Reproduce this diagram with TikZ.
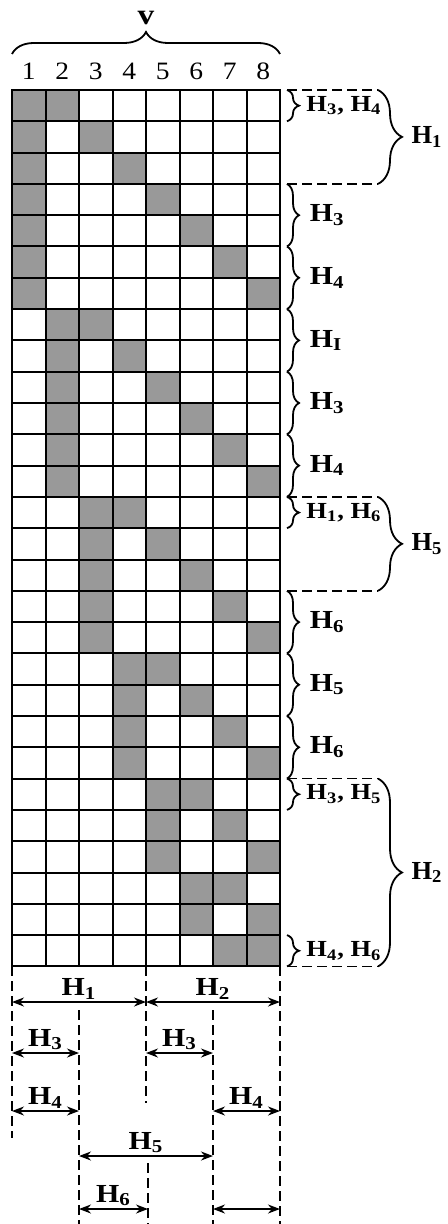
\documentclass[tikz,border=0pt]{standalone}
\usepackage{fontspec}
\setmainfont{Liberation Serif}
\usetikzlibrary{arrows.meta,decorations.pathreplacing}
\newcommand{\hh}[1]{H\textsubscript{#1}}

\begin{document}
\begin{tikzpicture}[
    x=0.5pt, y=-0.5pt,
    >={Stealth[length=6pt,width=4.5pt]},
    cell/.style={draw, line width=1pt, minimum width=16.75pt, minimum height=15.65pt, inner sep=0pt, outer sep=0pt},
    num/.style={font=\fontsize{12.5}{13}\selectfont, inner sep=0pt, xscale=1.1},
    lab/.style={font=\bfseries\fontsize{13}{14}\selectfont, inner sep=0pt, xscale=1.15},
    blab/.style={font=\bfseries\fontsize{13}{14}\selectfont, inner sep=0pt, xscale=1.02},
    plab/.style={font=\bfseries\fontsize{11.5}{12}\selectfont, inner sep=0pt, xscale=1.15},
    sbr/.style={decorate, decoration={brace, amplitude=6pt}, line width=0.9pt},
    bbr/.style={decorate, decoration={brace, amplitude=12pt}, line width=0.9pt},
    tbr/.style={decorate, decoration={brace, amplitude=11pt}, line width=0.9pt},
    dsh/.style={line width=0.8pt, dash pattern=on 5pt off 2.5pt},
    dim/.style={<->, line width=0.9pt}
]
    \useasboundingbox (0,0) rectangle (448,1224);
    \foreach \a/\b [count=\r] in {1/2,1/3,1/4,1/5,1/6,1/7,1/8,2/3,2/4,2/5,2/6,2/7,2/8,3/4,
                                  3/5,3/6,3/7,3/8,4/5,4/6,4/7,4/8,5/6,5/7,5/8,6/7,6/8,7/8} {
        \foreach \c in {1,...,8} {
            \pgfmathtruncatemacro\g{(\c==\a || \c==\b) ? 40 : 0}
            \node[cell, fill=black!\g] (c\r-\c) at ({12+(\c-0.5)*33.5}, {90+(\r-0.5)*31.3}) {};
        }
    }
    \foreach \c in {1,...,8}
        \node[num, above=5pt] (n\c) at (c1-\c.north) {\c};
    \draw[tbr] ([yshift=18pt]c1-1.north west) -- node[lab, font=\bfseries\fontsize{14.5}{15}\selectfont, above=14pt] (v) {v} ([yshift=18pt]c1-8.north east);

    \foreach \p/\q/\t in {4/5/3, 6/7/4, 8/9/I, 10/11/3, 12/13/4, 17/18/6, 19/20/5, 21/22/6}
        \draw[sbr] ([xshift=3.5pt]c\p-8.north east) -- node[lab, right=9.5pt] (b\p) {\hh{\t}} ([xshift=3.5pt]c\q-8.south east);
    \foreach \p/\s/\t in {1/3/4, 14/1/6, 23/3/5, 28/4/6}
        \draw[sbr] ([xshift=3.5pt]c\p-8.north east) -- node[plab, right=8pt] (b\p) {\hh{\s}, \hh{\t}} ([xshift=3.5pt]c\p-8.south east);
    \foreach \p/\q/\t in {1/3/1, 14/16/5, 23/28/2} {
        \draw[bbr] ([xshift=49pt]c\p-8.north east) -- node[blab, right=16pt] (big\t) {\hh{\t}} ([xshift=49pt]c\q-8.south east);
        \draw[dsh] ([xshift=3.5pt]c\p-8.north east) -- ([xshift=49pt]c\p-8.north east);
        \draw[dsh] ([xshift=3.5pt]c\q-8.south east) -- ([xshift=49pt]c\q-8.south east);
    }

    \coordinate (x0) at (c28-1.south west);
    \coordinate (x2) at (c28-2.south east);
    \coordinate (x4) at (c28-4.south east);
    \coordinate (x5) at ([xshift=1pt]c28-4.south east);
    \coordinate (x6) at (c28-6.south east);
    \coordinate (x8) at (c28-8.south east);
    \coordinate (l1) at (0,1002);
    \coordinate (l3) at (0,1053);
    \coordinate (l4) at (0,1111);
    \coordinate (l5) at (0,1156);
    \coordinate (l6) at (0,1209);
    \coordinate (t2) at (0,1010);
    \coordinate (e0) at (0,1138);
    \coordinate (e4) at (0,1103);
    \coordinate (s5) at (0,1163);
    \coordinate (bot) at (0,1224);

    \draw[dsh] (x0) -- (x0 |- e0);
    \draw[dsh] (x2 |- t2) -- (x2 |- bot);
    \draw[dsh] (x4) -- (x4 |- e4);
    \draw[dsh] (x5 |- s5) -- (x5 |- bot);
    \draw[dsh] (x6 |- t2) -- (x6 |- bot);
    \draw[dsh] (x8) -- (x8 |- bot);

    \draw[dim] (x0 |- l1) -- node[lab, above=1pt] (d1) {\hh{1}} (x4 |- l1);
    \draw[dim] (x4 |- l1) -- node[lab, above=1pt] (d2) {\hh{2}} (x8 |- l1);
    \draw[dim] (x0 |- l3) -- node[lab, above=1pt] (d3a) {\hh{3}} (x2 |- l3);
    \draw[dim] (x4 |- l3) -- node[lab, above=1pt] (d3b) {\hh{3}} (x6 |- l3);
    \draw[dim] (x0 |- l4) -- node[lab, above=1pt] (d4a) {\hh{4}} (x2 |- l4);
    \draw[dim] (x6 |- l4) -- node[lab, above=1pt] (d4b) {\hh{4}} (x8 |- l4);
    \draw[dim] (x2 |- l5) -- node[lab, above=1pt] (d5) {\hh{5}} (x6 |- l5);
    \draw[dim] (x2 |- l6) -- node[lab, above=1pt] (d6) {\hh{6}} (x5 |- l6);
    \draw[dim] (x6 |- l6) -- (x8 |- l6);
\end{tikzpicture}
\end{document}
